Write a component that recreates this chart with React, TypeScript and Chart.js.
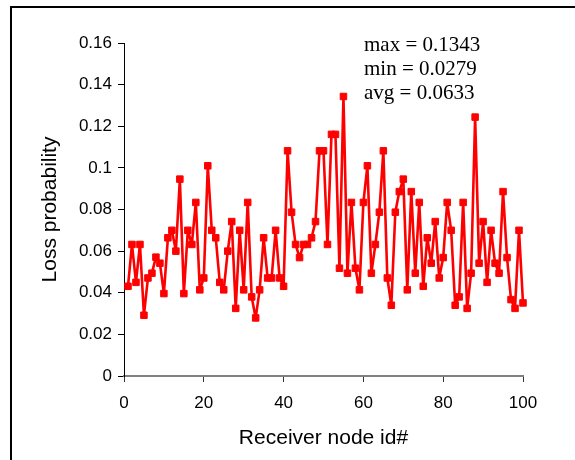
import React, { useEffect, useRef } from "react";
import { Chart, registerables } from "chart.js";

Chart.register(...registerables);

const nodeIds = [
  1, 2, 3, 4, 5, 6, 7, 8, 9, 10, 11, 12, 13, 14, 15, 16, 17, 18, 19, 20,
  21, 22, 23, 24, 25, 26, 27, 28, 29, 30, 31, 32, 33, 34, 35, 36, 37, 38, 39, 40,
  41, 42, 43, 44, 45, 46, 47, 48, 49, 50, 51, 52, 53, 54, 55, 56, 57, 58, 59, 60,
  61, 62, 63, 64, 65, 66, 67, 68, 69, 70, 71, 72, 73, 74, 75, 76, 77, 78, 79, 80,
  81, 82, 83, 84, 85, 86, 87, 88, 89, 90, 91, 92, 93, 94, 95, 96, 97, 98, 99, 100,
];

const lossProbability = [
  0.0431, 0.0632, 0.045, 0.0632, 0.0292, 0.0471, 0.0494, 0.0571, 0.0542, 0.0396,
  0.0664, 0.07, 0.06, 0.0946, 0.0396, 0.07, 0.0632, 0.0834, 0.0414, 0.0471,
  0.101, 0.07, 0.0664, 0.045, 0.0414, 0.06, 0.0742, 0.0325, 0.07, 0.0414,
  0.0834, 0.038, 0.0279, 0.0414, 0.0664, 0.0471, 0.0471, 0.07, 0.0471, 0.0431,
  0.1082, 0.0787, 0.0632, 0.0569, 0.0632, 0.0632, 0.0664, 0.0742, 0.1082, 0.1082,
  0.0632, 0.1161, 0.1161, 0.0518, 0.1343, 0.0494, 0.0834, 0.0518, 0.0414, 0.0834,
  0.101, 0.0494, 0.0632, 0.0787, 0.1082, 0.0471, 0.034, 0.0787, 0.0886, 0.0946,
  0.0414, 0.0886, 0.0494, 0.0834, 0.0431, 0.0664, 0.0542, 0.0742, 0.0471, 0.0569,
  0.0834, 0.07, 0.034, 0.038, 0.0834, 0.0325, 0.0494, 0.1244, 0.0542, 0.0742,
  0.045, 0.07, 0.0542, 0.0494, 0.0886, 0.0569, 0.0367, 0.0325, 0.07, 0.0351,
];

const statsLabels = ["max = 0.1343", "min = 0.0279", "avg = 0.0633"];
const xAxisTitle = "Receiver node id#";
const yAxisTitle = "Loss probability";

const SANS = "'Liberation Sans', Arial, sans-serif";
const SERIF = "'Liberation Serif', 'Times New Roman', serif";

const statsPlugin = {
  id: "statsText",
  afterDraw(chart: any) {
    const ctx = chart.ctx;
    ctx.save();
    ctx.fillStyle = "#000";
    ctx.font = `21px ${SERIF}`;
    ctx.textAlign = "left";
    ctx.textBaseline = "alphabetic";
    statsLabels.forEach((t, i) => {
      ctx.fillText(t, 364, 51 + i * 24);
    });
    ctx.restore();
  },
};

export default function App() {
  const canvasRef = useRef<HTMLCanvasElement | null>(null);

  useEffect(() => {
    if (!canvasRef.current) return;
    const points = nodeIds.map((id, i) => ({ x: id, y: lossProbability[i] }));
    const chart = new Chart(canvasRef.current, {
      type: "line",
      data: {
        datasets: [
          {
            data: points,
            borderColor: "#ff0000",
            backgroundColor: "#ff0000",
            borderWidth: 2.6,
            borderJoinStyle: "round",
            pointStyle: "rect",
            pointRadius: 4.6,
            pointBorderWidth: 1,
            pointBorderColor: "#ff0000",
            pointBackgroundColor: "#ff0000",
            tension: 0,
            fill: false,
            clip: false,
          },
        ],
      },
      options: {
        animation: false,
        responsive: false,
        maintainAspectRatio: false,
        layout: { padding: { left: 0, top: 43, right: 52, bottom: 0 } },
        plugins: {
          legend: { display: false },
          tooltip: { enabled: false },
        },
        scales: {
          x: {
            type: "linear",
            min: 0,
            max: 100,
            afterFit: (scale: any) => {
              scale.height = 84;
            },
            ticks: {
              stepSize: 20,
              color: "#000",
              font: { family: SANS, size: 17 },
              padding: 11,
              maxRotation: 0,
            },
            grid: {
              drawOnChartArea: false,
              drawTicks: true,
              tickLength: 6,
              color: "#333",
              lineWidth: 1,
            },
            border: { color: "#808080", width: 2 },
            title: {
              display: true,
              text: xAxisTitle,
              color: "#000",
              font: { family: SANS, size: 21 },
              padding: { top: 0, bottom: 9 },
            },
          },
          y: {
            min: 0,
            max: 0.16,
            afterFit: (scale: any) => {
              scale.width = 124;
            },
            ticks: {
              stepSize: 0.02,
              color: "#000",
              font: { family: SANS, size: 17 },
              padding: 6,
              callback: (v: any) => String(Number(Number(v).toFixed(2))),
            },
            grid: {
              drawOnChartArea: false,
              drawTicks: true,
              tickLength: 6,
              color: "#000",
              lineWidth: 1,
            },
            border: { color: "#000", width: 1 },
            title: {
              display: true,
              text: yAxisTitle,
              color: "#000",
              font: { family: SANS, size: 21 },
              padding: { top: 38, bottom: 0 },
            },
          },
        },
      },
      plugins: [statsPlugin],
    });
    return () => chart.destroy();
  }, []);

  return (
    <div
      style={{
        position: "absolute",
        left: 0,
        top: 0,
        width: 575,
        height: 460,
        overflow: "hidden",
        background: "#fff",
      }}
    >
      <div
        style={{
          position: "absolute",
          left: 10,
          top: 6,
          width: 700,
          height: 700,
          borderLeft: "2px solid #000",
          borderTop: "2px solid #000",
        }}
      />
      <canvas
        ref={canvasRef}
        width={575}
        height={460}
        style={{ position: "absolute", left: 0, top: 0, width: 575, height: 460 }}
      />
    </div>
  );
}
